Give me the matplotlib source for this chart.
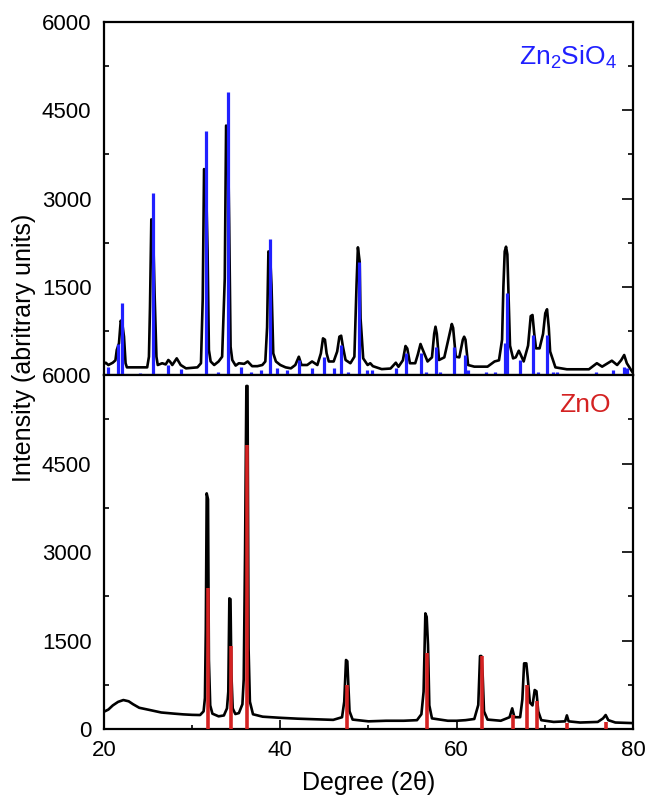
import numpy as np
import matplotlib
matplotlib.use('Agg')
import matplotlib.pyplot as plt
from matplotlib.ticker import MultipleLocator, FixedLocator

plt.rcParams['font.family'] = ['Liberation Sans', 'DejaVu Sans']
plt.rcParams['mathtext.default'] = 'regular'

zso_deg = [20.0, 20.2, 20.5, 21.0, 21.3, 21.45, 21.7, 21.9, 22.1, 22.27, 22.45, 22.6, 24.9,
           25.1, 25.22, 25.37, 25.55, 25.75, 25.95, 26.1, 26.6, 27.0, 27.3, 27.5, 27.75,
           28.25, 28.7, 29.3, 30.6, 31.0, 31.2, 31.35, 31.55, 31.75, 31.9, 32.1, 32.5,
           33.0, 33.4, 33.7, 33.85, 34.05, 34.2, 34.36, 34.55, 34.93, 35.3, 35.9, 36.3,
           36.8, 37.4, 37.96, 38.3, 38.5, 38.65, 38.83, 39.0, 39.2, 39.5, 40.0, 40.6,
           41.2, 41.7, 42.1, 42.4, 43.05, 43.6, 44.2, 44.6, 44.84, 45.06, 45.25, 45.5,
           46.05, 46.45, 46.7, 46.9, 47.1, 47.4, 47.95, 48.4, 48.65, 48.8, 49.0, 49.1,
           49.4, 49.9, 50.2, 50.5, 51.5, 52.5, 53.1, 53.4, 53.9, 54.2, 54.4, 54.7,
           55.3, 55.6, 55.9, 56.1, 56.4, 56.7, 57.2, 57.45, 57.6, 57.75, 58.0, 58.6,
           59.2, 59.45, 59.6, 59.9, 60.3, 60.7, 60.85, 61.0, 61.3, 62.0, 63.5, 64.3,
           64.8, 65.15, 65.3, 65.45, 65.6, 65.75, 65.9, 66.05, 66.4, 66.7, 67.05, 67.25,
           67.6, 68.1, 68.4, 68.6, 68.8, 69.0, 69.4, 69.8, 70.05, 70.25, 70.45, 70.6,
           71.2, 72.5, 75.0, 75.9, 76.5, 77.6, 78.2, 78.65, 79.0, 79.3, 79.9]
zso_int = [187, 209, 170, 209, 250, 425, 538, 923, 850, 651, 200, 130, 130,
           311, 1160, 2645, 2600, 1330, 311, 170, 200, 180, 255, 226, 170,
           283, 170, 113, 130, 200, 1290, 3500, 3450, 2115, 425, 230, 170,
           230, 311, 1640, 4240, 4200, 2580, 480, 255, 160, 200, 190, 230,
           150, 150, 170, 230, 810, 2100, 2080, 1530, 368, 230, 170, 130,
           113, 170, 311, 170, 170, 230, 170, 368, 623, 600, 368, 230,
           230, 400, 651, 668, 481, 255, 200, 311, 1558, 2170, 1926, 963,
           283, 170, 200, 150, 100, 110, 209, 140, 250, 493, 450, 200,
           200, 350, 527, 450, 340, 230, 300, 700, 821, 700, 255, 300,
           700, 867, 800, 311, 300, 600, 651, 600, 170, 142, 142, 230,
           250, 600, 1500, 2100, 2181, 2050, 1300, 500, 283, 300, 413, 350,
           230, 500, 1000, 1020, 700, 453, 453, 700, 1050, 1117, 800, 400,
           130, 97, 97, 200, 142, 243, 170, 250, 340, 200, 57]

# Zn2SiO4 reference lines
zso_ref_pos = [20.45, 21.63, 22.08, 24.08, 25.6, 27.3, 28.77, 31.57, 32.97, 34.06, 35.5,
               36.63, 37.77, 38.83, 39.66, 40.72, 42.12, 43.63, 44.95, 46.08, 46.92,
               47.67, 48.92, 49.87, 50.4, 53.15, 54.29, 55.99, 56.56, 57.69, 58.1,
               59.7, 60.91, 61.3, 63.35, 64.3, 65.45, 65.7, 67.15, 68.65, 69.2,
               70.25, 70.9, 71.4, 75.85, 77.73, 78.97, 79.3]
zso_ref_int = [130, 525, 1230, 40, 3100, 170, 97, 4150, 57, 4815, 142,
               57, 85, 2320, 113, 85, 255, 113, 311, 113, 510,
               57, 1926, 85, 85, 113, 368, 368, 57, 482, 57,
               482, 340, 85, 57, 57, 540, 1390, 255, 680, 57,
               680, 57, 57, 57, 85, 142, 113]

# ZnO measured pattern
zno_deg = [20.0, 20.5, 21.0, 21.6, 22.2, 22.8, 23.3, 24.0, 25.2, 26.5, 28.0, 29.0, 30.0,
           30.9, 31.3, 31.45, 31.55, 31.65, 31.8, 31.9, 32.05, 32.3, 33.0, 33.6, 33.95,
           34.1, 34.22, 34.35, 34.45, 34.6, 34.9, 35.3, 35.7, 35.85, 36.0, 36.15, 36.28,
           36.4, 36.55, 36.9, 38.0, 40.0, 42.0, 44.0, 46.0, 47.0, 47.25, 47.45, 47.6,
           47.7, 47.85, 48.2, 50.0, 52.0, 54.0, 55.5, 56.0, 56.25, 56.45, 56.6, 56.75,
           56.9, 57.2, 59.0, 60.0, 61.0, 62.0, 62.45, 62.65, 62.8, 62.95, 63.1, 63.5,
           65.0, 66.0, 66.3, 66.55, 67.2, 67.45, 67.65, 67.9, 68.05, 68.3, 68.6, 68.85,
           69.05, 69.25, 69.6, 71.0, 72.3, 72.5, 72.7, 74.0, 76.0, 76.6, 76.9, 77.2,
           78.0, 80.0]
zno_int = [293, 330, 400, 460, 491, 470, 420, 360, 322, 280, 260, 248, 240,
           237, 300, 525, 1678, 3994, 3893, 1170, 400, 260, 215, 230, 350,
           633, 2215, 2200, 944, 350, 254, 270, 420, 842, 2966, 5814, 5814,
           1367, 463, 250, 209, 190, 175, 165, 155, 200, 463, 1170, 1150,
           802, 300, 160, 130, 140, 140, 150, 250, 633, 1960, 1900, 1424,
           400, 180, 140, 140, 150, 170, 407, 1237, 1237, 915, 300, 160,
           140, 200, 350, 200, 200, 500, 1113, 1113, 887, 450, 400, 661,
           640, 300, 150, 120, 130, 231, 130, 110, 120, 180, 237, 150,
           110, 100]

# ZnO reference lines
zno_ref_pos = [31.77, 34.45, 36.27, 47.56, 56.6, 62.85, 66.36, 67.95, 69.08, 72.56, 76.94]
zno_ref_int = [2384, 1412, 4813, 746, 1294, 1237, 231, 746, 480, 96, 124]

blue = '#2020ff'
red = '#d42222'

fig = plt.figure(figsize=(6.45, 7.95), dpi=100)
ax1 = fig.add_axes([0.1612, 0.5283, 0.8202, 0.4440])
ax2 = fig.add_axes([0.1612, 0.0830, 0.8202, 0.4453])

ax1.plot(zso_deg, zso_int, color='black', lw=1.9, zorder=2)
ax1.vlines(zso_ref_pos, 0, zso_ref_int, color=blue, lw=2.3, zorder=3)
ax2.plot(zno_deg, zno_int, color='black', lw=1.9, zorder=2)
ax2.vlines(zno_ref_pos, 0, zno_ref_int, color=red, lw=2.6, zorder=3)

for ax in (ax1, ax2):
    ax.set_xlim(20, 80)
    ax.set_ylim(0, 6000)
    for s in ax.spines.values():
        s.set_linewidth(1.6)
    ax.yaxis.set_minor_locator(MultipleLocator(750))
    ax.tick_params(axis='y', which='both', direction='in', right=True, labelsize=16, pad=9, width=1.2)
    ax.tick_params(axis='y', which='major', length=8, left=False)
    ax.tick_params(axis='y', which='minor', length=3.5)

ax1.yaxis.set_major_locator(FixedLocator([1500, 3000, 4500, 6000]))
ax1.tick_params(axis='x', which='both', bottom=False, top=False, labelbottom=False)
ax2.yaxis.set_major_locator(MultipleLocator(1500))

ax2.xaxis.set_major_locator(MultipleLocator(20))
ax2.xaxis.set_minor_locator(MultipleLocator(10))
ax2.tick_params(axis='x', which='both', direction='in', top=False, labelsize=16, pad=8, width=1.2)
ax2.tick_params(axis='x', which='major', length=6.5)
ax2.tick_params(axis='x', which='minor', length=3)

ax1.text(0.97, 0.90, 'Zn$_{2}$SiO$_{4}$', color=blue, fontsize=19,
         ha='right', va='center', transform=ax1.transAxes)
ax2.text(0.957, 0.915, 'ZnO', color=red, fontsize=19,
         ha='right', va='center', transform=ax2.transAxes)

fig.text(0.037, 0.562, 'Intensity (abritrary units)', rotation=90,
         fontsize=18, ha='center', va='center')
fig.text(0.571, 0.015, 'Degree (2\u03b8)', fontsize=18, ha='center', va='center')

fig.savefig('out.png', dpi=100)
